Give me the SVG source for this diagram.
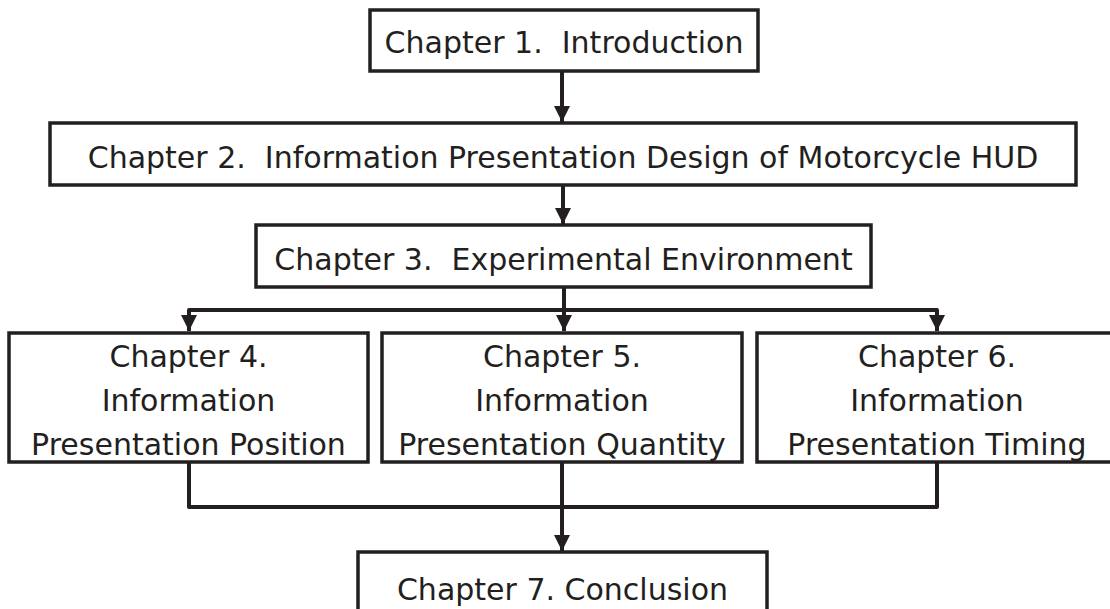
<svg xmlns="http://www.w3.org/2000/svg" width="1110" height="609" viewBox="0 0 1110 609">
  <style>
    .box { fill: #ffffff; stroke: #231f20; stroke-width: 3.5; }
    .lbl { font-family: "DejaVu Sans", "Liberation Sans", sans-serif; font-size: 30px; fill: #231f20; text-anchor: middle; }
    .wire { fill: none; stroke: #231f20; stroke-width: 4; stroke-linejoin: round; stroke-linecap: butt; }
  </style>
  <defs>
    <marker id="arrow" markerUnits="userSpaceOnUse" markerWidth="16" markerHeight="16" refX="16" refY="8" orient="auto">
      <path d="M0,0 L16,8 L0,16 Z" fill="#231f20"/>
    </marker>
  </defs>
  <rect width="1110" height="609" fill="#ffffff"/>

  <g id="connectors">
    <path class="wire" d="M562,71 V122" marker-end="url(#arrow)"/>
    <path class="wire" d="M563,185 V224" marker-end="url(#arrow)"/>
    <path class="wire" d="M564,287 V310"/>
    <path class="wire" d="M564,310 H189 V331" marker-end="url(#arrow)"/>
    <path class="wire" d="M564,310 V331" marker-end="url(#arrow)"/>
    <path class="wire" d="M564,310 H937 V331" marker-end="url(#arrow)"/>
    <path class="wire" d="M189,462 V507 H937 V462"/>
    <path class="wire" d="M562,462 V551" marker-end="url(#arrow)"/>
  </g>

  <g id="ch1">
    <rect class="box" x="370" y="10" width="388" height="61"/>
    <text class="lbl" x="564" y="53" xml:space="preserve">Chapter 1.  Introduction</text>
  </g>
  <g id="ch2">
    <rect class="box" x="50" y="123" width="1026" height="62"/>
    <text class="lbl" x="563" y="168" xml:space="preserve">Chapter 2.  Information Presentation Design of Motorcycle HUD</text>
  </g>
  <g id="ch3">
    <rect class="box" x="256" y="225" width="615" height="62"/>
    <text class="lbl" x="563.5" y="270" xml:space="preserve">Chapter 3.  Experimental Environment</text>
  </g>
  <g id="ch4">
    <rect class="box" x="9" y="333" width="359" height="129"/>
    <text class="lbl" x="188.5" y="367">Chapter 4.</text>
    <text class="lbl" x="188.5" y="411">Information</text>
    <text class="lbl" x="188.5" y="455">Presentation Position</text>
  </g>
  <g id="ch5">
    <rect class="box" x="382" y="333" width="360" height="129"/>
    <text class="lbl" x="562" y="367">Chapter 5.</text>
    <text class="lbl" x="562" y="411">Information</text>
    <text class="lbl" x="562" y="455">Presentation Quantity</text>
  </g>
  <g id="ch6">
    <rect class="box" x="757" y="333" width="360" height="129"/>
    <text class="lbl" x="937" y="367">Chapter 6.</text>
    <text class="lbl" x="937" y="411">Information</text>
    <text class="lbl" x="937" y="455">Presentation Timing</text>
  </g>
  <g id="ch7">
    <rect class="box" x="358" y="552" width="409" height="80"/>
    <text class="lbl" x="562.5" y="600">Chapter 7. Conclusion</text>
  </g>
</svg>
